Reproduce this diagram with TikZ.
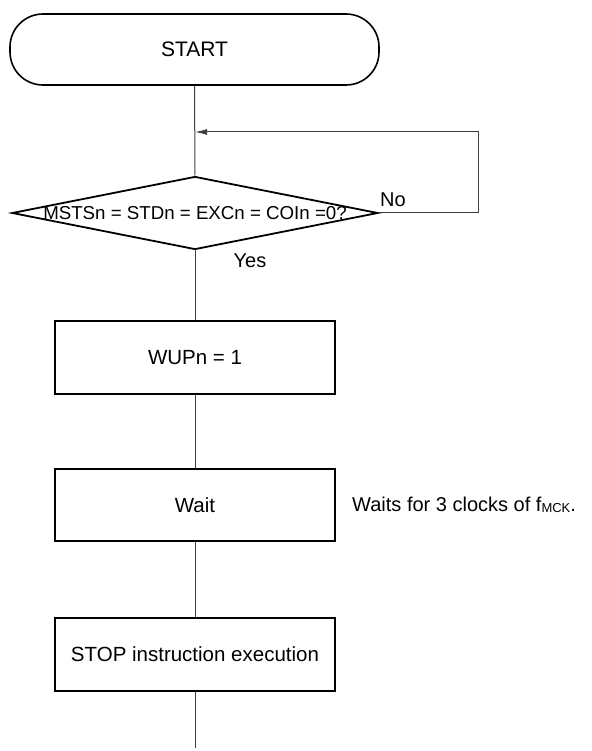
\documentclass[tikz,border=0pt]{standalone}
\usepackage{fontspec}
\setmainfont{Liberation Sans}
\usetikzlibrary{shapes.geometric,arrows.meta}
\tikzset{
  stepbox/.style={draw,line width=1.8pt,minimum width=280pt,minimum height=73pt,inner sep=0pt,font=\fontsize{20.5}{24}\selectfont},
  termbox/.style={draw,line width=1.6pt,rounded corners=33pt,minimum width=369pt,minimum height=71pt,inner sep=0pt,font=\fontsize{21}{24}\selectfont},
  decbox/.style={draw,diamond,line width=1.8pt,minimum width=366pt,minimum height=73pt,inner sep=0pt},
  flow/.style={draw=black!75,line width=1pt},
  lbl/.style={font=\fontsize{20}{24}\selectfont,inner sep=0pt}
}
\begin{document}
\begin{tikzpicture}[x=1pt,y=-1pt]
\useasboundingbox (0,0) rectangle (591,751);
\node[termbox] (start) at (194.5,49.5) {START};
\node[decbox] (chk) at (195,213) {};
\node[lbl,font=\fontsize{18.7}{22}\selectfont] at (chk) {MSTSn = STDn = EXCn = COIn =0?};
\node[stepbox] (wup) at (195,357.5) {WUPn = 1};
\node[stepbox,minimum height=72pt] (wait) at (195,505) {Wait};
\node[stepbox] (stop) at (195,654.5) {STOP instruction execution};
\coordinate (loopin) at (195,132);
\coordinate (corner) at (478,132);
\coordinate (fin) at (195,748);
% connectors
\draw[flow] (start) -- (chk);
\draw[flow] (chk) -- (wup);
\draw[flow] (wup) -- (wait);
\draw[flow] (wait) -- (stop);
\draw[flow] (stop) -- (fin);
\draw[flow,-{Latex[length=12pt,width=6pt]}] (chk.east) -| (corner) -- (loopin);
% labels
\node[lbl,anchor=south west] at (380,207) {No};
\node[lbl] at (250,261) {Yes};
\node[lbl,anchor=west] at (352,505) {Waits for 3 clocks of f\raisebox{-1pt}{\fontsize{13}{14}\selectfont MCK}.};
\end{tikzpicture}
\end{document}
